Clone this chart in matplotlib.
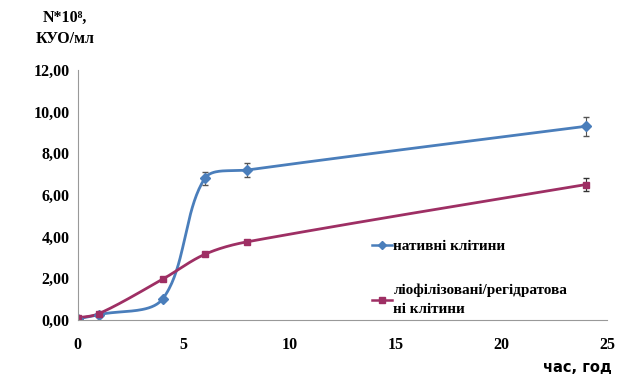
import matplotlib.pyplot as plt
import numpy as np

# time points, hours
hours = [0, 1, 4, 6, 8, 24]
native = [0.05, 0.25, 1.0, 6.8, 7.2, 9.3]
native_err = [0, 0, 0, 0.3, 0.35, 0.45]
lyo = [0.1, 0.3, 1.95, 3.15, 3.75, 6.5]
lyo_err = [0, 0, 0, 0, 0, 0.3]
y_ticks = [0, 2, 4, 6, 8, 10, 12]
x_ticks = [0, 5, 10, 15, 20, 25]

BLUE = '#4a7ebb'
RED = '#9e2f64'


# smoothed line through the points (non-uniform Catmull-Rom as Bezier)
def smooth(x, y, n=40):
    p = np.column_stack([x, y]).astype(float)
    m = len(p)
    d = np.linalg.norm(np.diff(p, axis=0), axis=1)
    out = []
    for i in range(m - 1):
        p0, p1, p2, p3 = p[max(i - 1, 0)], p[i], p[i + 1], p[min(i + 2, m - 1)]
        dp = d[i - 1] if i > 0 else d[i]
        dn = d[i + 1] if i + 2 < m else d[i]
        c1 = p1 + (p2 - p0) * d[i] / (dp + d[i]) / 3
        c2 = p2 - (p3 - p1) * d[i] / (d[i] + dn) / 3
        t = np.linspace(0, 1, n)[:, None]
        out.append((1 - t) ** 3 * p1 + 3 * (1 - t) ** 2 * t * c1
                   + 3 * (1 - t) * t ** 2 * c2 + t ** 3 * p2)
    out = np.vstack(out)
    return out[:, 0], out[:, 1]


fig = plt.figure(figsize=(6.18, 3.79), dpi=100)
ax = fig.add_axes([0.126, 0.156, 0.856, 0.659])

serif = 'Liberation Serif'

sx, sy = smooth(hours, native)
ax.plot(sx, sy, color=BLUE, lw=2)
ax.errorbar(hours, native, yerr=native_err, fmt='D', color=BLUE, ms=5,
            ecolor='#555555', elinewidth=0.8, capsize=2.5)
sx, sy = smooth(hours, lyo)
ax.plot(sx, sy, color=RED, lw=2)
ax.errorbar(hours, lyo, yerr=lyo_err, fmt='s', color=RED, ms=5,
            ecolor='#333333', elinewidth=0.8, capsize=2.5)

# legend handles
h1, = ax.plot([], [], color=BLUE, marker='D', ms=4, lw=1.8)
h2, = ax.plot([], [], color=RED, marker='s', ms=4, lw=1.8)
leg = ax.legend([h1, h2], ['нативні клітини', 'ліофілізовані/регідратова\nні клітини'],
                loc='lower left', bbox_to_anchor=(0.53, -0.04), frameon=False,
                prop={'family': serif, 'weight': 'bold', 'size': 11},
                handlelength=1.3, handletextpad=0.1, labelspacing=2.0)
for t in leg.get_texts():
    t.set_linespacing(1.6)

ax.set_xlim(0, 25)
ax.set_ylim(0, 12)
ax.set_xticks(x_ticks)
ax.set_yticks(y_ticks)
ax.set_yticklabels([f'{v:.2f}'.replace('.', ',') for v in y_ticks])
for lab in ax.get_xticklabels() + ax.get_yticklabels():
    lab.set_family(serif)
    lab.set_weight('bold')
    lab.set_fontsize(11.5)
ax.tick_params(length=0)
ax.tick_params(axis='x', pad=12)
ax.tick_params(axis='y', pad=6)
ax.spines[['top', 'right']].set_visible(False)
ax.spines[['left', 'bottom']].set_color('#999999')

fig.text(0.105, 0.925, 'N*10⁸,\nКУО/мл', ha='center', va='center',
         family=serif, weight='bold', fontsize=11.5, linespacing=1.5)
fig.text(0.99, 0.03, 'час, год', ha='right', va='center',
         family='DejaVu Sans', weight='bold', fontsize=10.5)

fig.savefig('out.png', dpi=100)
